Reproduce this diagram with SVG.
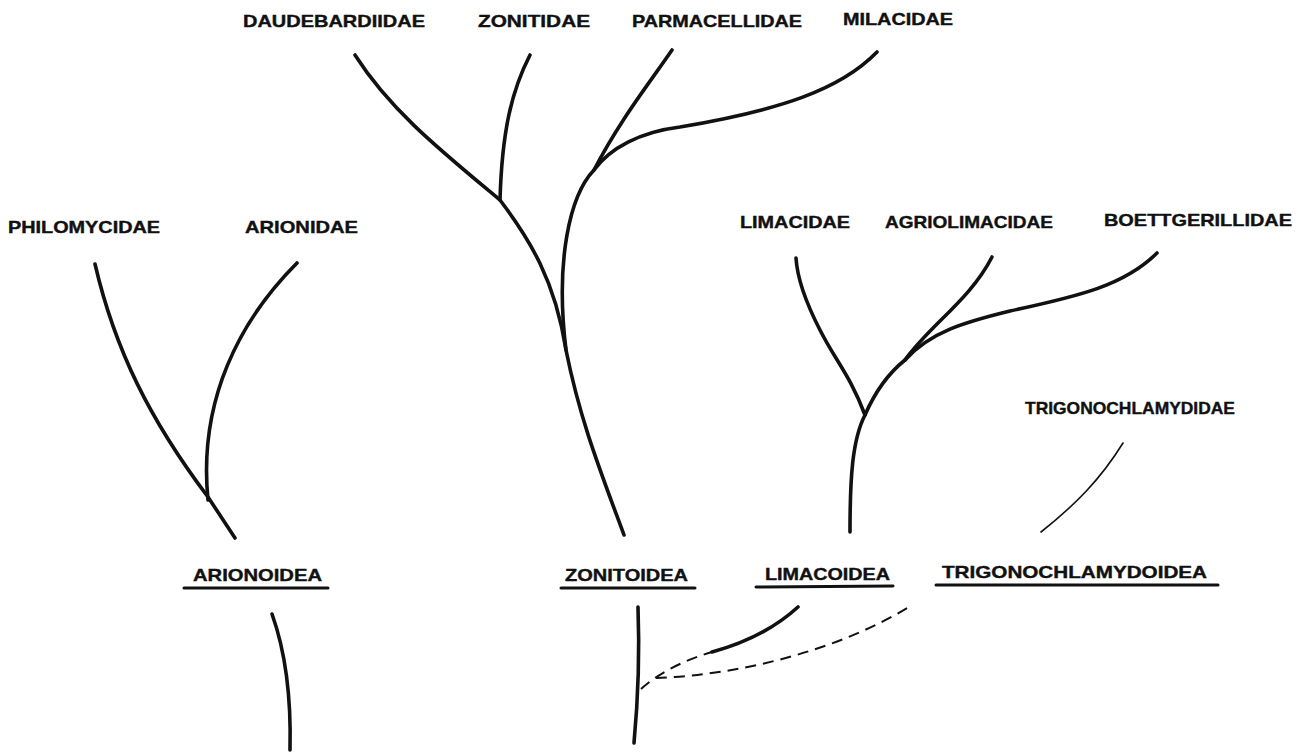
<svg xmlns="http://www.w3.org/2000/svg" width="1305" height="753" viewBox="0 0 1305 753">
<style>
text{font-family:"Liberation Sans",Arial,sans-serif;font-weight:bold;font-size:17px;fill:#111;stroke:#111;stroke-width:0.4}
.b{fill:none;stroke:#111;stroke-width:3.6;stroke-linecap:round}
.t{fill:none;stroke:#111;stroke-width:1.6;stroke-linecap:round}
.d{fill:none;stroke:#111;stroke-width:2;stroke-dasharray:11 7}
.u{stroke:#111;stroke-width:3;stroke-linecap:round}
</style>
<rect width="1305" height="753" fill="#fff"/>
<g id="labels">
<text x="243" y="27" textLength="182" lengthAdjust="spacingAndGlyphs">DAUDEBARDIIDAE</text>
<text x="478" y="27" textLength="112" lengthAdjust="spacingAndGlyphs">ZONITIDAE</text>
<text x="632" y="27" textLength="170" lengthAdjust="spacingAndGlyphs">PARMACELLIDAE</text>
<text x="843" y="25" textLength="110" lengthAdjust="spacingAndGlyphs">MILACIDAE</text>
<text x="8" y="233" textLength="152" lengthAdjust="spacingAndGlyphs">PHILOMYCIDAE</text>
<text x="245" y="233" textLength="113" lengthAdjust="spacingAndGlyphs">ARIONIDAE</text>
<text x="740" y="228" textLength="110" lengthAdjust="spacingAndGlyphs">LIMACIDAE</text>
<text x="885" y="228" textLength="168" lengthAdjust="spacingAndGlyphs">AGRIOLIMACIDAE</text>
<text x="1104" y="226" textLength="188" lengthAdjust="spacingAndGlyphs">BOETTGERILLIDAE</text>
<text x="1025" y="414" textLength="210" lengthAdjust="spacingAndGlyphs">TRIGONOCHLAMYDIDAE</text>
</g>
<g id="arionoidea">
<text x="193" y="581" textLength="129" lengthAdjust="spacingAndGlyphs">ARIONOIDEA</text>
<line class="u" x1="184" y1="588" x2="328" y2="588"/>
</g>
<g id="zonitoidea">
<text x="565" y="581" textLength="123" lengthAdjust="spacingAndGlyphs">ZONITOIDEA</text>
<line class="u" x1="561" y1="588" x2="695" y2="588"/>
</g>
<g id="limacoidea">
<text x="765" y="580" textLength="125" lengthAdjust="spacingAndGlyphs">LIMACOIDEA</text>
<line class="u" x1="756" y1="587" x2="893" y2="586"/>
</g>
<g id="trigonochlamydoidea">
<text x="942" y="578" textLength="265" lengthAdjust="spacingAndGlyphs">TRIGONOCHLAMYDOIDEA</text>
<line class="u" x1="936" y1="585" x2="1218" y2="585"/>
</g>
<g id="connectors">
<path class="b" d="M95,264 C115,350 150,420 208,497 L235,538"/>
<path class="b" d="M297,263 C240,320 198,400 208,500"/>
<path class="b" d="M272,614 Q292,670 290,750"/>
<path class="b" d="M355,55 C390,110 440,150 500,200 C530,240 555,280 566,350 C580,420 600,470 624,535"/>
<path class="b" d="M500,200 C502,130 512,90 530,55"/>
<path class="b" d="M566,350 C555,260 570,195 594,170 C620,120 648,85 672,50"/>
<path class="b" d="M594,170 C610,148 640,132 680,127 C780,110 840,90 877,52"/>
<path class="b" d="M850,532 C850,480 852,440 865,415"/>
<path class="b" d="M865,415 C850,375 835,360 820,330 C802,295 797,275 796,258"/>
<path class="b" d="M865,415 C875,392 890,372 905,360 C930,325 970,300 992,257"/>
<path class="b" d="M905,360 C930,332 965,322 1010,311 C1080,296 1125,285 1157,253"/>
<path class="t" d="M1041,532 C1075,505 1100,480 1123,443"/>
<path class="b" d="M638,607 C640,660 638,700 634,743"/>
<path class="d" d="M641,689 C660,672 685,660 712,652"/>
<path class="b" d="M712,652 C745,643 775,628 798,607"/>
<path class="d" d="M656,678 C740,675 840,650 912,605"/>
</g>
</svg>
